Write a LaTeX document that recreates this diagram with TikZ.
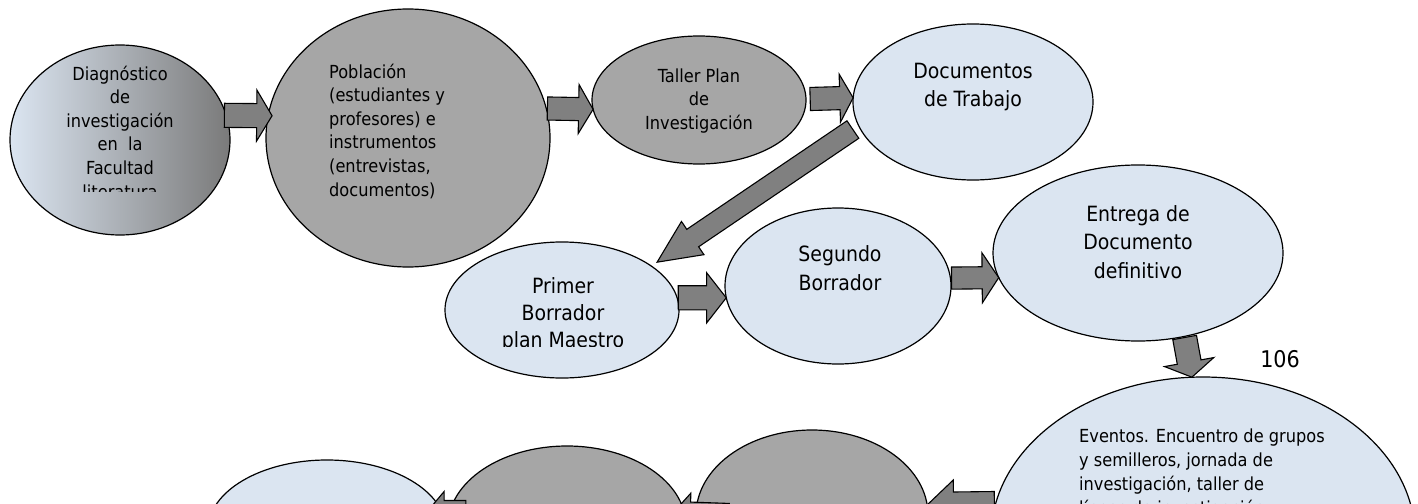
\documentclass[tikz,border=0pt]{standalone}
\usepackage{fontspec}
\setmainfont{DejaVu Sans Condensed}
\usetikzlibrary{shapes.geometric,shapes.arrows,calc}

\definecolor{azulc}{HTML}{DBE5F1}
\definecolor{grisc}{HTML}{A6A6A6}
\definecolor{grisf}{HTML}{808080}
\definecolor{grisg}{HTML}{7A7A7A}

% flecha gruesa: cola, punta, ancho cabeza, ancho cuerpo, angulo punta
\newcommand{\flechagorda}[5]{%
  \path let \p1=#1, \p2=#2, \n1={atan2(\y2-\y1,\x2-\x1)}, \n2={veclen(\x2-\x1,\y2-\y1)},
    \n3={(#3-#4)/2}, \n4={#4/2} in
    node[flecha, anchor=tail, minimum height=\n2, minimum width=#3 pt, inner ysep=\n4 pt,
      single arrow head extend=\n3 pt, single arrow tip angle=#5, rotate=\n1] at (\p1) {};}

\begin{document}
\begin{tikzpicture}[x=1pt, y=-1pt,
	burbuja/.style={ellipse, draw=black, line width=1.2pt, inner sep=0pt},
	flecha/.style={single arrow, draw=black, fill=grisf, line width=1.1pt, inner xsep=0pt, single arrow head indent=0pt},
	texto/.style={inner sep=0pt, align=center, font=\fontsize{18}{23.5}\selectfont},
	textog/.style={inner sep=0pt, align=center, font=\fontsize{21}{28}\selectfont}]
	\path[use as bounding box] (0,0) rectangle (1418,503);
	\clip (0,0) rectangle (1418,503);

	% primera fila
	\node[burbuja, left color=azulc, right color=grisg, minimum width=220, minimum height=190] (diag) at (120,140) {};
	\node[burbuja, fill=grisc, minimum width=284, minimum height=258] (pobl) at (408,138) {};
	\node[burbuja, fill=grisc, minimum width=214, minimum height=128] (taller) at (699,100) {};
	\node[burbuja, fill=azulc, minimum width=240, minimum height=156] (docs) at (973,102) {};
	% segunda fila
	\node[burbuja, fill=azulc, minimum width=234, minimum height=136] (primer) at (562,310) {};
	\node[burbuja, fill=azulc, minimum width=226, minimum height=156] (segundo) at (838,286) {};
	\node[burbuja, fill=azulc, minimum width=290, minimum height=176] (entrega) at (1138,253) {};
	% tercera fila (cortada por la pagina)
	\node[burbuja, fill=azulc, minimum width=424, minimum height=320] (eventos) at (1203,537) {};
	\node[burbuja, fill=azulc, minimum width=238, minimum height=140] (bazul) at (327,530) {};
	\node[burbuja, fill=grisc, minimum width=238, minimum height=160] (bgris) at (567,526) {};
	\node[burbuja, fill=grisc, minimum width=232, minimum height=170] (bgrisdos) at (812,515) {};

	\begin{scope}
		\clip (0,0) rectangle (1418,191);
		\node[texto, font=\fontsize{18}{23.6}\selectfont] (tdiag) at (120,132) {Diagnóstico\\de\\investigación\\en\ \ la\\Facultad\\literatura};
	\end{scope}
	\node[texto, align=left, anchor=west, font=\fontsize{18}{23.6}\selectfont] (tpobl) at (329,131) {Población\\(estudiantes y\\profesores) e\\instrumentos\\(entrevistas,\\documentos)};
	\node[texto] (ttaller) at (699,101) {Taller Plan\\de\\Investigación};
	\node[textog] (tdocs) at (973,87) {Documentos\\de Trabajo};
	\begin{scope}
		\clip (0,0) rectangle (1418,346);
		\node[textog, font=\fontsize{21}{27}\selectfont] (tprimer) at (563,315) {Primer\\Borrador\\plan Maestro};
	\end{scope}
	\node[textog, font=\fontsize{21}{29}\selectfont] (tsegundo) at (840,268) {Segundo\\Borrador};
	\node[textog, font=\fontsize{21}{28.5}\selectfont] (tentrega) at (1138,242) {Entrega de\\Documento\\definitivo};
	\node[textog, font=\fontsize{23}{28}\selectfont] (tnum) at (1280,359) {106};
	\node[texto, align=left, anchor=west, font=\fontsize{18}{24}\selectfont] (teventos) at (1079,474) {Eventos. Encuentro de grupos\\y semilleros, jornada de\\investigación, taller de\\líneas de investigación y};

	% flechas
	\flechagorda{($(diag.13)+(-3,0)$)}{($(pobl.171)+(4,0)$)}{50}{23}{118}
	\flechagorda{(pobl.12)}{(taller.185)}{48}{22}{119}
	\flechagorda{($(taller.east)+(3,-1)$)}{(docs.178)}{47}{22}{122}
	\flechagorda{($(docs.193)+(-6,1)$)}{($(primer.27)+(7,-3)$)}{39}{20}{50}
	\flechagorda{(primer.6)}{(segundo.186)}{49}{23}{104}
	\flechagorda{(segundo.4)}{(entrega.190)}{49}{21}{113}
	\flechagorda{(entrega.-61)}{(eventos.94)}{49}{23}{117}
	\flechagorda{(eventos.171)}{(bgrisdos.5)}{48}{24}{86}
	\flechagorda{($(bgrisdos.west)+(34,1)$)}{($(bgris.east)+(-14,-12)$)}{42}{24}{100}
	\flechagorda{($(bgris.west)+(19,-13)$)}{($(bazul.east)+(-20,-17)$)}{42}{24}{100}
\end{tikzpicture}
\end{document}
